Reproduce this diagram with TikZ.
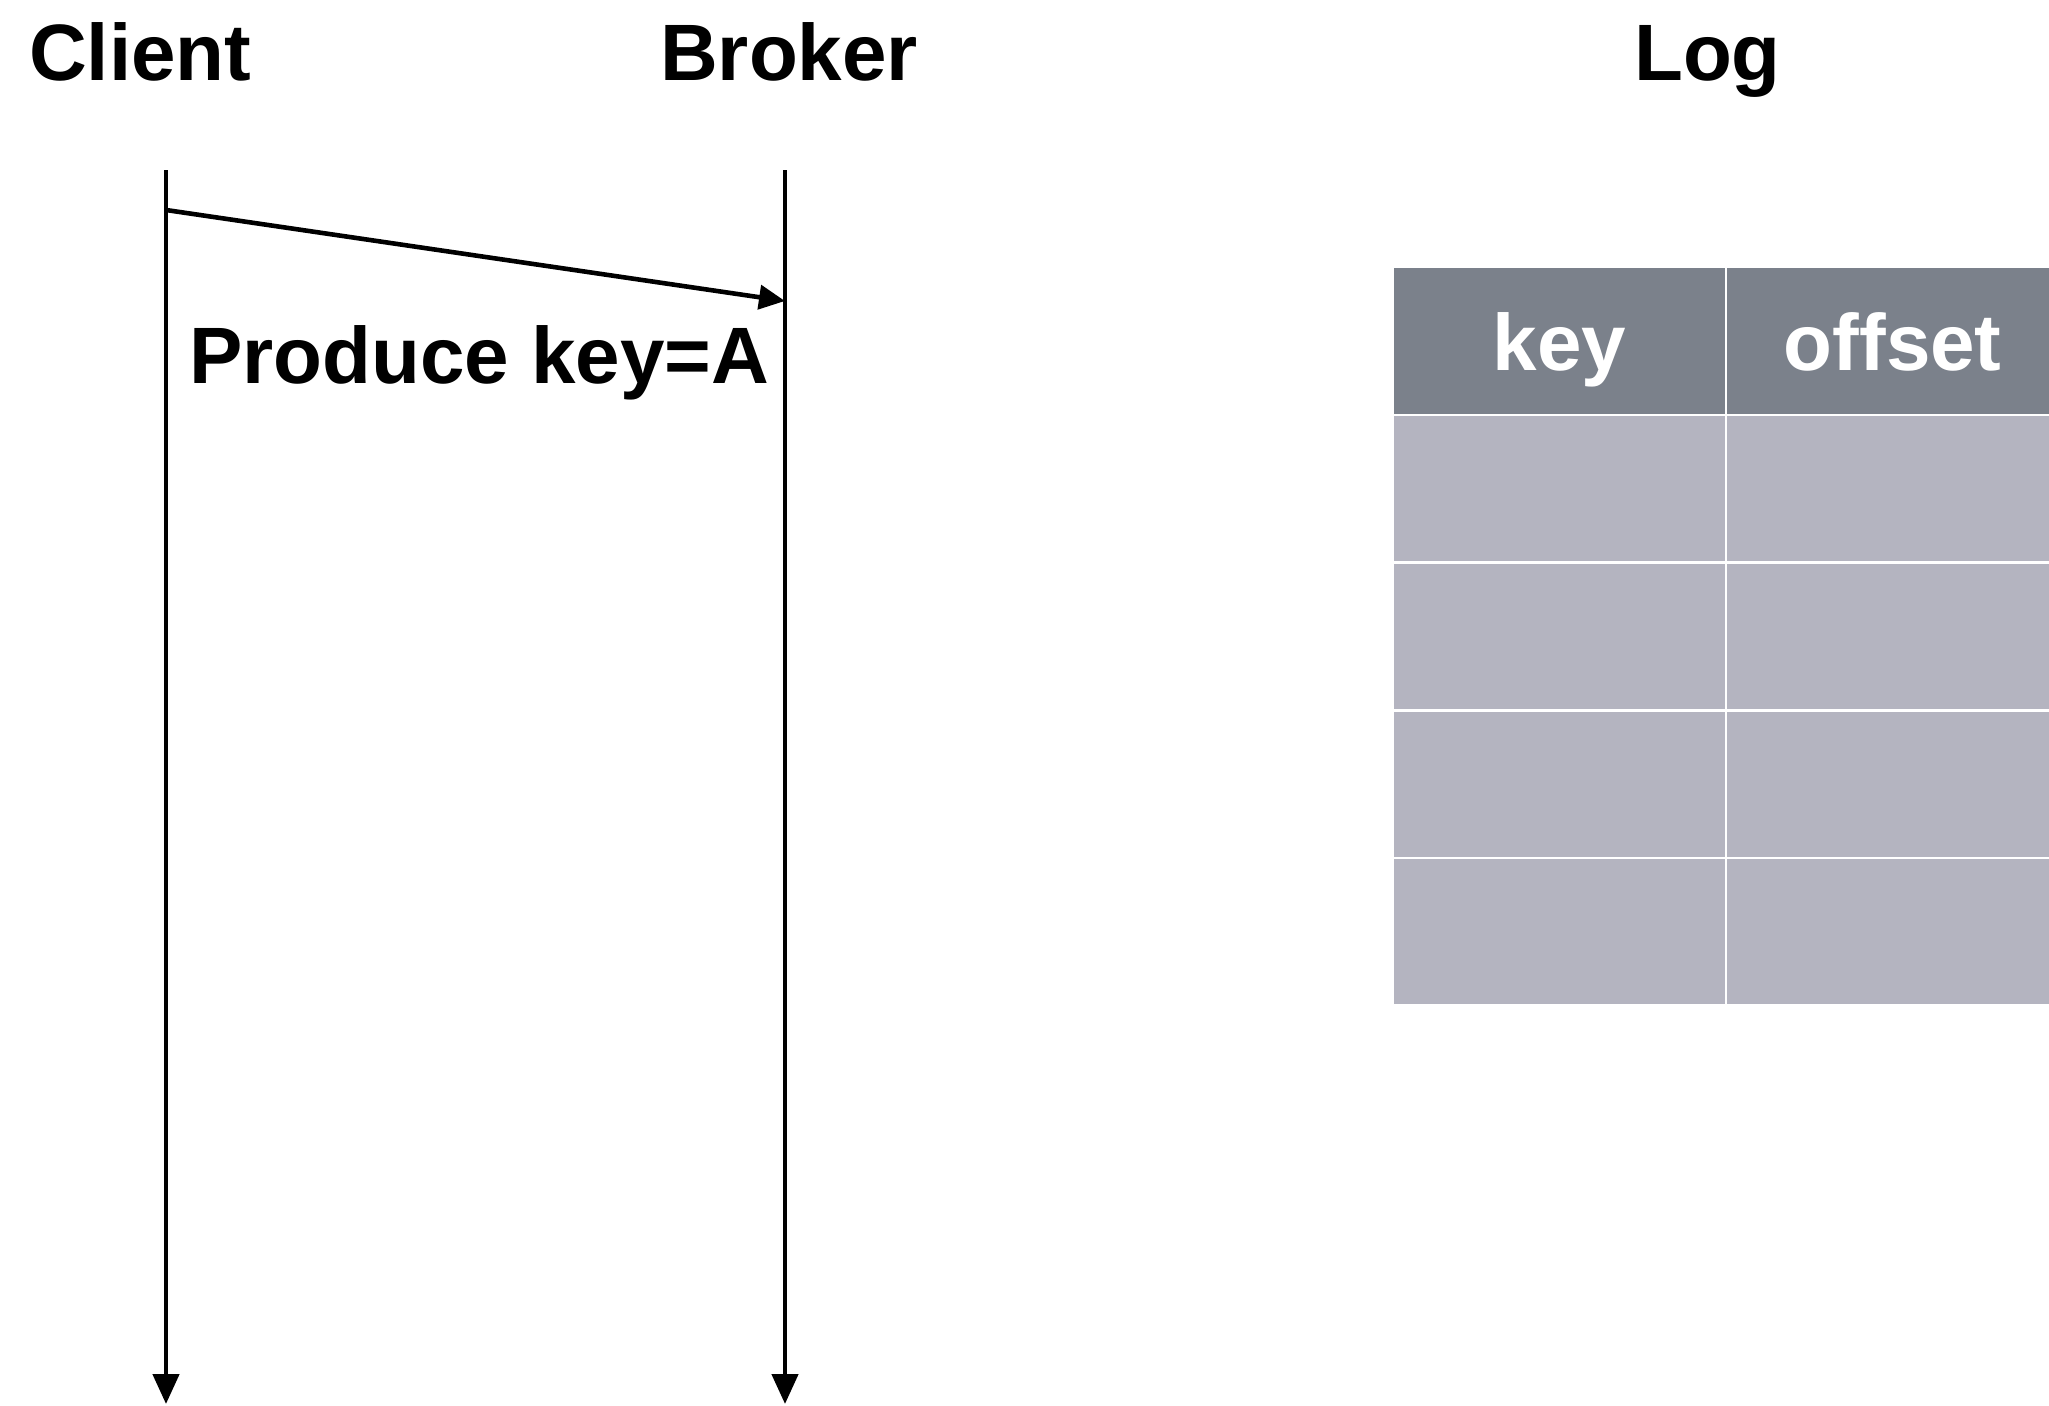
\documentclass[tikz,border=0pt]{standalone}
\usepackage{fontspec}
\setmainfont{Liberation Sans}
\usetikzlibrary{arrows.meta}
\definecolor{hdr}{HTML}{7B818B}
\definecolor{cellc}{HTML}{B4B4C0}
\begin{document}
\begin{tikzpicture}[x=1pt,y=-1pt,
  title/.style={font=\fontsize{80}{96}\selectfont\bfseries, anchor=base west, inner sep=0pt},
  lifeline/.style={line width=4.6pt, -{Triangle[width=26pt,length=30pt]}},
  msg/.style={line width=4.6pt, -{Triangle[width=24pt,length=26pt]}},
  hcell/.style={fill=hdr, draw=none, minimum width=331pt, minimum height=146pt, inner sep=0pt,
    anchor=north west, text=white, font=\fontsize{80}{96}\selectfont\bfseries,
    text height=72pt, text depth=14pt},
  bcell/.style={fill=cellc, draw=none, minimum width=331pt, minimum height=145pt, inner sep=0pt,
    anchor=north west}]
\useasboundingbox (0,0) rectangle (2049,1405);
\fill[white] (0,0) rectangle (2049,1405);

% titles
\node[title] (client) at (29,81) {Client};
\node[title] (broker) at (660,81) {Broker};
\node[title] (log) at (1634,81) {Log};

% lifelines
\coordinate (ctop) at (166,170);
\coordinate (cbot) at (166,1404);
\coordinate (btop) at (785,170);
\coordinate (bbot) at (785,1404);
\draw[lifeline] (ctop) -- (cbot);
\draw[lifeline] (btop) -- (bbot);

% message
\coordinate (msgstart) at (166,210);
\coordinate (msgend) at (785,301);
\draw[msg] (msgstart) -- (msgend);
\node[title] (produce) at (189,383) {Produce key=A};

% table
\begin{scope}
\clip (0,0) rectangle (2049,1405);
\node[hcell] (hkey) at (1394,268) {key};
\node[hcell] (hoff) at (1727,268) {offset};
\node[bcell] (r1a) at (1394,416) {};
\node[bcell] (r1b) at (1727,416) {};
\node[bcell] (r2a) at (1394,564) {};
\node[bcell] (r2b) at (1727,564) {};
\node[bcell] (r3a) at (1394,712) {};
\node[bcell] (r3b) at (1727,712) {};
\node[bcell] (r4a) at (1394,859) {};
\node[bcell] (r4b) at (1727,859) {};
\end{scope}
\end{tikzpicture}
\end{document}
